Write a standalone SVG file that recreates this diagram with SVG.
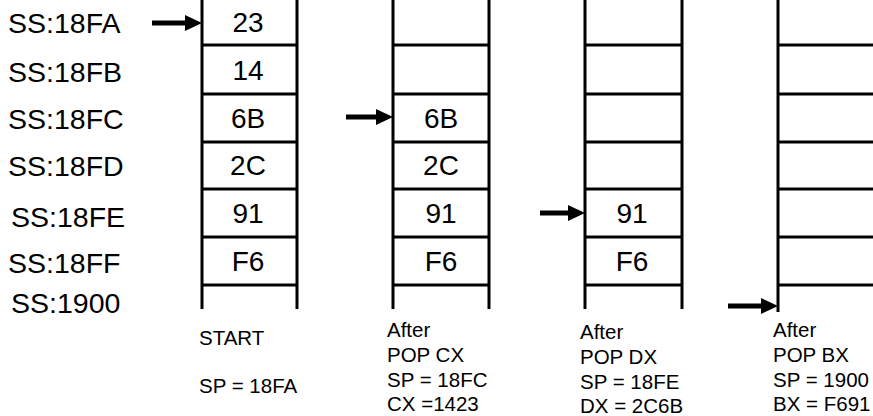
<svg xmlns="http://www.w3.org/2000/svg" width="873" height="416" viewBox="0 0 873 416">
<style>
.bg{fill:#fff}
.ln{stroke:#000;stroke-width:3;fill:none}
.ar{stroke:#000;stroke-width:5;fill:none}
.ah{fill:#000}
.addr{font-family:"Liberation Sans",Arial,sans-serif;font-size:28.5px;fill:#000}
.val{font-family:"Liberation Sans",Arial,sans-serif;font-size:28px;fill:#000;text-anchor:middle}
.cap{font-family:"Liberation Sans",Arial,sans-serif;font-size:20.5px;fill:#000}
</style>
<defs>
<polygon id="head" class="ah" points="0,-8 17,0 0,8"/>
</defs>
<rect class="bg" x="0" y="0" width="873" height="416"/>
<g id="addresses">
<text class="addr" x="8" y="33">SS:18FA</text>
<text class="addr" x="8" y="82">SS:18FB</text>
<text class="addr" x="8" y="129">SS:18FC</text>
<text class="addr" x="8" y="176">SS:18FD</text>
<text class="addr" x="11" y="227">SS:18FE</text>
<text class="addr" x="8" y="273">SS:18FF</text>
<text class="addr" x="11" y="313">SS:1900</text>
</g>
<g id="stack-start">
<path class="ln" d="M202,0V309M297,0V309M202,45H297M202,94H297M202,142H297M202,189H297M202,237H297M202,285H297"/>
<text class="val" x="248" y="32">23</text>
<text class="val" x="248" y="80">14</text>
<text class="val" x="248" y="128">6B</text>
<text class="val" x="248" y="175">2C</text>
<text class="val" x="248" y="223">91</text>
<text class="val" x="248" y="271">F6</text>
<text class="cap" x="199" y="345">START</text>
<text class="cap" x="199" y="393">SP = 18FA</text>
</g>
<g id="stack-popcx">
<path class="ln" d="M393,0V309M489,0V309M393,45H489M393,94H489M393,142H489M393,189H489M393,237H489M393,285H489"/>
<text class="val" x="441" y="128">6B</text>
<text class="val" x="441" y="175">2C</text>
<text class="val" x="441" y="223">91</text>
<text class="val" x="441" y="271">F6</text>
<text class="cap" x="387" y="337">After</text>
<text class="cap" x="387" y="362">POP CX</text>
<text class="cap" x="387" y="387">SP = 18FC</text>
<text class="cap" x="387" y="411">CX =1423</text>
</g>
<g id="stack-popdx">
<path class="ln" d="M585,0V309M682,0V309M585,45H682M585,94H682M585,142H682M585,189H682M585,237H682M585,285H682"/>
<text class="val" x="632" y="223">91</text>
<text class="val" x="632" y="271">F6</text>
<text class="cap" x="580" y="339">After</text>
<text class="cap" x="580" y="364">POP DX</text>
<text class="cap" x="580" y="389">SP = 18FE</text>
<text class="cap" x="580" y="413">DX = 2C6B</text>
</g>
<g id="stack-popbx">
<path class="ln" d="M778,0V312M778,45H873M778,94H873M778,142H873M778,189H873M778,237H873M778,285H873"/>
<text class="cap" x="773" y="337">After</text>
<text class="cap" x="773" y="362">POP BX</text>
<text class="cap" x="773" y="387">SP = 1900</text>
<text class="cap" x="773" y="411">BX = F691</text>
</g>
<g id="connectors">
<path class="ar" d="M152,23H187"/><use href="#head" x="185" y="23"/>
<path class="ar" d="M346,117H378"/><use href="#head" x="376" y="117"/>
<path class="ar" d="M540,213H570"/><use href="#head" x="568" y="213"/>
<path class="ar" d="M728,306H763"/><use href="#head" x="761" y="306"/>
</g>
</svg>
